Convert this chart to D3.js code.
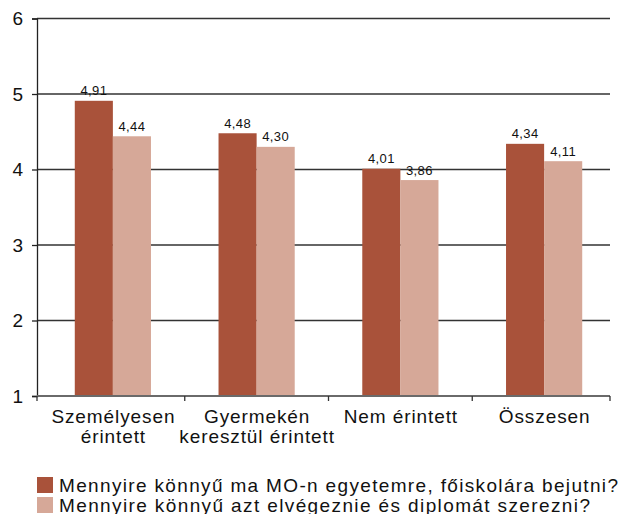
<!DOCTYPE html>
<html>
<head>
<meta charset="utf-8">
<script src="https://cdn.jsdelivr.net/npm/d3@7"></script>
<style>
  body { margin: 0; background: #fff; }
  text { font-family: "Liberation Sans", Arial, sans-serif; fill: #111; }
</style>
</head>
<body>
<div id="chart"></div>
<script>
(function () {

  // data
  const categories = [["Személyesen", "érintett"], ["Gyermekén", "keresztül érintett"], ["Nem érintett"], ["Összesen"]]
  const seriesNames = [
    "Mennyire könnyű ma MO-n egyetemre, főiskolára bejutni?",
    "Mennyire könnyű azt elvégeznie és diplomát szerezni?"
  ]
  const bejutni = [4.91, 4.48, 4.01, 4.34]
  const elvegezni = [4.44, 4.30, 3.86, 4.11]
  const yTicks = [1, 2, 3, 4, 5, 6]

  const colors = ["#a9523a", "#d6a898"]

  const margin = { top: 18.5, right: 11, bottom: 118, left: 37 }
  const width = 621 - margin.left - margin.right
  const height = 514 - margin.top - margin.bottom

  const svg = d3.select("#chart").append("svg")
      .attr("width", 621)
      .attr("height", 514)
    .append("g")
      .attr("transform", "translate(" + margin.left + "," + margin.top + ")")

  // bars sit a few px right of the plot frame in the original
  const xScale = d3.scaleBand()
    .domain(d3.range(categories.length))
    .range([4, width + 6])
    .paddingInner(0.47)
    .paddingOuter(0.235)

  const xSub = d3.scaleBand()
    .domain([0, 1])
    .range([0, xScale.bandwidth()])

  const yScale = d3.scaleLinear()
    .domain([1, 6])
    .range([height, 0])

  // gridlines
  svg.selectAll(".grid")
    .data(yTicks.slice(1))
    .join("line")
    .attr("class", "grid")
    .attr("x1", 0)
    .attr("x2", width)
    .attr("y1", d => yScale(d))
    .attr("y2", d => yScale(d))
    .attr("stroke", "#333")
    .attr("stroke-width", 1.3)

  // y axis
  const yAxis = svg.append("g")
    .call(d3.axisLeft(yScale).tickValues(yTicks).tickSize(5).tickPadding(9).tickFormat(d3.format("d")))
  yAxis.select(".domain").attr("stroke", "#222").attr("stroke-width", 1.3)
  yAxis.selectAll(".tick line").attr("stroke", "#222").attr("stroke-width", 1.3)
  yAxis.selectAll("text").attr("font-size", 19).attr("fill", "#111")
    .attr("font-family", "Liberation Sans, Arial, sans-serif")

  // bars
  const series = [bejutni, elvegezni]
  series.forEach((vals, s) => {
    svg.selectAll(".bar" + s)
      .data(vals)
      .join("rect")
      .attr("class", "bar" + s)
      .attr("x", (d, i) => xScale(i) + xSub(s))
      .attr("width", xSub.bandwidth())
      .attr("y", d => yScale(d))
      .attr("height", d => height - yScale(d))
      .attr("fill", colors[s])

    svg.selectAll(".lab" + s)
      .data(vals)
      .join("text")
      .attr("class", "lab" + s)
      .attr("x", (d, i) => xScale(i) + xSub(s) + xSub.bandwidth() / 2)
      .attr("y", d => yScale(d) - 5.5)
      .attr("text-anchor", "middle")
      .attr("font-size", 13)
      .attr("letter-spacing", 0.4)
      .text(d => d3.format(".2f")(d).replace(".", ","))
  })

  // x axis
  const center = i => xScale(i) + xScale.bandwidth() / 2
  const tickXs = [0].concat(d3.range(1, categories.length).map(i => (center(i - 1) + center(i)) / 2), [width])
  const xAxis = svg.append("g").attr("transform", "translate(0," + height + ")")
  xAxis.append("line")
    .attr("x1", 0).attr("x2", width)
    .attr("stroke", "#6a6a6a").attr("stroke-width", 1.8)
  xAxis.selectAll(".xtick")
    .data(tickXs)
    .join("line")
    .attr("class", "xtick")
    .attr("x1", d => d).attr("x2", d => d)
    .attr("y1", 0).attr("y2", 5)
    .attr("stroke", "#333").attr("stroke-width", 1.3)

  xAxis.selectAll(".cat")
    .data(categories)
    .join("text")
    .attr("class", "cat")
    .attr("x", (d, i) => center(i) + 0.5)
    .attr("y", 27)
    .attr("text-anchor", "middle")
    .attr("font-size", 19)
    .attr("letter-spacing", 0.9)
    .each(function (d) {
      d3.select(this).selectAll("tspan")
        .data(d)
        .join("tspan")
        .attr("x", d3.select(this).attr("x"))
        .attr("dy", (t, j) => j === 0 ? 0 : 20)
        .text(t => t)
    })

  // legend
  const legendWidths = [559, 531]
  const legend = svg.append("g")
    .attr("transform", "translate(0," + (height + 81) + ")")

  legend.selectAll("rect")
    .data(seriesNames)
    .join("rect")
    .attr("x", 0)
    .attr("y", (d, i) => i * 20)
    .attr("width", 16)
    .attr("height", 16)
    .attr("fill", (d, i) => colors[i])

  legend.selectAll("text")
    .data(seriesNames)
    .join("text")
    .attr("x", 22)
    .attr("y", (d, i) => i * 20 + 15)
    .attr("font-size", 19)
    .attr("textLength", (d, i) => legendWidths[i])
    .attr("lengthAdjust", "spacing")
    .text(d => d)

})();
</script>
</body>
</html>
